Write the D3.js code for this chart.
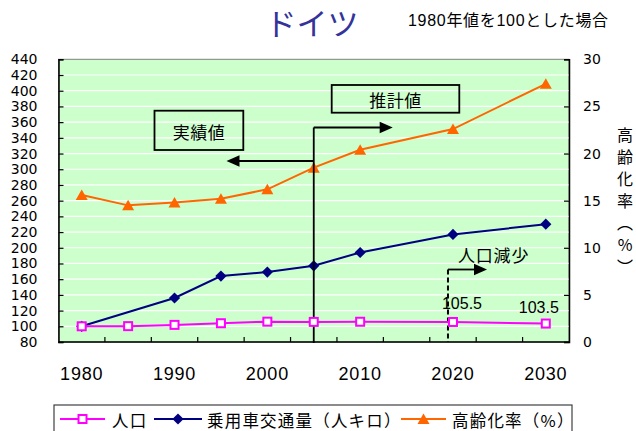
<!DOCTYPE html>
<html>
<head>
<meta charset="utf-8">
<script src="https://cdn.jsdelivr.net/npm/d3@7/dist/d3.min.js"></script>
<style>
  html, body { margin: 0; padding: 0; background: #fff; }
  svg { display: block; }
  .vtitle { writing-mode: vertical-rl; text-orientation: upright; }
</style>
</head>
<body>
<svg id="chart" width="636" height="431"></svg>
<script>
// Category axis: every five years, 1980–2030
const categoryYears = [1980, 1985, 1990, 1995, 2000, 2005, 2010, 2015, 2020, 2025, 2030];
const xTickLabels = ["1980", "1990", "2000", "2010", "2020", "2030"];
const leftTicks = [80, 100, 120, 140, 160, 180, 200, 220, 240, 260, 280, 300, 320, 340, 360, 380, 400, 420, 440];
const rightTicks = [0, 5, 10, 15, 20, 25, 30];

// Observed / projected years
const dataYears = [1980, 1985, 1990, 1995, 2000, 2005, 2010, 2020, 2030];
// 人口 (1980 = 100)
const population = [100, 100.2, 101.8, 103.9, 105.9, 105.6, 105.8, 105.5, 103.5];
// 乗用車交通量（人キロ） (1980 = 100)
const carTraffic = [100, null, 136, 164, 169, 177, 194, 217, 230];
// 高齢化率（%）
const agingRate = [15.6, 14.5, 14.8, 15.2, 16.2, 18.5, 20.4, 22.6, 27.4];

const seriesNames = ["人口", "乗用車交通量（人キロ）", "高齢化率（%）"];
const rightAxisTitle = "高齢化率（%）";

const svg = d3.select("#chart");
const jp = "'Noto Sans CJK JP', 'Noto Sans', sans-serif";

const plot = { left: 58.5, right: 569, top: 59.3, bottom: 342 };

const x = d3.scaleBand().domain(categoryYears).range([plot.left, plot.right]).padding(0);
const cx = yr => x(yr) + x.bandwidth() / 2;
const yL = d3.scaleLinear().domain([80, 440]).range([plot.bottom, plot.top]);
const yR = d3.scaleLinear().domain([0, 30]).range([plot.bottom, plot.top]);

// Plot background
svg.append("rect")
  .attr("x", plot.left).attr("y", plot.top)
  .attr("width", plot.right - plot.left).attr("height", plot.bottom - plot.top)
  .attr("fill", "#ccffcc").attr("stroke", "#808080").attr("stroke-width", 1);

// White horizontal gridlines
svg.append("g").selectAll("line")
  .data(leftTicks.slice(1, -1))
  .join("line")
  .attr("x1", plot.left).attr("x2", plot.right)
  .attr("y1", d => yL(d)).attr("y2", d => yL(d))
  .attr("stroke", "#ffffff").attr("stroke-width", 1.2);

// Left axis
const axL = svg.append("g")
  .attr("transform", `translate(${plot.left},0)`)
  .call(d3.axisLeft(yL).tickValues(leftTicks).tickSize(-5).tickPadding(21).tickFormat(d3.format("d")));
axL.select(".domain").attr("stroke", "#000").attr("stroke-width", 1.5);
axL.selectAll(".tick line").attr("stroke", "#000").attr("stroke-width", 1.2);
axL.selectAll("text").attr("font-family", "'DejaVu Sans', sans-serif").attr("font-size", 14).attr("fill", "#000");

// Right axis
const axR = svg.append("g")
  .attr("transform", `translate(${plot.right},0)`)
  .call(d3.axisRight(yR).tickValues(rightTicks).tickSize(-5).tickPadding(14).tickFormat(d3.format("d")));
axR.select(".domain").attr("stroke", "#000").attr("stroke-width", 1.5);
axR.selectAll(".tick line").attr("stroke", "#000").attr("stroke-width", 1.2);
axR.selectAll("text").attr("font-family", "'DejaVu Sans', sans-serif").attr("font-size", 14).attr("fill", "#000");

// Bottom axis: line, inner ticks at category boundaries, decade labels
svg.append("line")
  .attr("x1", plot.left).attr("x2", plot.right)
  .attr("y1", plot.bottom).attr("y2", plot.bottom)
  .attr("stroke", "#000").attr("stroke-width", 1.5);
svg.append("g").selectAll("line")
  .data(categoryYears.slice(1))
  .join("line")
  .attr("x1", d => x(d)).attr("x2", d => x(d))
  .attr("y1", plot.bottom).attr("y2", plot.bottom - 5)
  .attr("stroke", "#000").attr("stroke-width", 1.2);
svg.append("g").selectAll("text")
  .data(xTickLabels)
  .join("text")
  .attr("x", d => cx(+d)).attr("y", 380)
  .attr("text-anchor", "middle")
  .attr("font-family", "'Liberation Sans', Arial, sans-serif")
  .attr("font-size", 18).attr("letter-spacing", 0.8)
  .attr("fill", "#000")
  .text(d => d);

// Right axis title, set in vertical writing mode
svg.append("text")
  .attr("class", "vtitle")
  .attr("x", 625).attr("y", 127)
  .attr("font-family", jp).attr("font-size", 16)
  .attr("letter-spacing", 6)
  .attr("fill", "#000")
  .text(rightAxisTitle);

// Series data
const rows = dataYears.map((yr, i) => ({
  year: yr, pop: population[i], car: carTraffic[i], aging: agingRate[i]
}));

const colors = { pop: "#ff00ff", car: "#000080", aging: "#ff6600" };

function drawLine(key, yScale) {
  const pts = rows.filter(r => r[key] != null);
  svg.append("path")
    .datum(pts)
    .attr("fill", "none")
    .attr("stroke", colors[key]).attr("stroke-width", 2)
    .attr("d", d3.line().x(d => cx(d.year)).y(d => yScale(d[key])));
  return pts;
}

const diamondPath = "M0,-5.6L5.6,0L0,5.6L-5.6,0Z";
const trianglePath = "M0,-5.6L6,5L-6,5Z";

const agingPts = drawLine("aging", yR);
svg.append("g").selectAll("path")
  .data(agingPts).join("path")
  .attr("transform", d => `translate(${cx(d.year)},${yR(d.aging)})`)
  .attr("d", trianglePath).attr("fill", colors.aging);

const carPts = drawLine("car", yL);
svg.append("g").selectAll("path")
  .data(carPts).join("path")
  .attr("transform", d => `translate(${cx(d.year)},${yL(d.car)})`)
  .attr("d", diamondPath).attr("fill", colors.car);

// Annotations: actual / projected split at 2005
const splitX = cx(2005);
const ann = svg.append("g").attr("stroke", "#000").attr("fill", "none");
ann.append("line").attr("x1", splitX).attr("x2", splitX).attr("y1", 127.5).attr("y2", plot.bottom + 1)
  .attr("stroke-width", 1.8);
ann.append("line").attr("x1", splitX).attr("x2", 380).attr("y1", 127.5).attr("y2", 127.5).attr("stroke-width", 1.8);
ann.append("line").attr("x1", splitX).attr("x2", 239).attr("y1", 161).attr("y2", 161).attr("stroke-width", 1.8);

function arrowHead(tipX, tipY, dir) {
  const len = 13, half = 5.8;
  svg.append("path")
    .attr("d", `M${tipX},${tipY}L${tipX - dir * len},${tipY - half}L${tipX - dir * len},${tipY + half}Z`)
    .attr("fill", "#000");
}
arrowHead(392.7, 127.5, 1);
arrowHead(226.5, 161, -1);

// Boxes
function labelBox(x0, y0, x1, y1, label) {
  svg.append("rect")
    .attr("x", x0).attr("y", y0).attr("width", x1 - x0).attr("height", y1 - y0)
    .attr("fill", "none").attr("stroke", "#000").attr("stroke-width", 1.8);
  svg.append("text")
    .attr("x", (x0 + x1) / 2).attr("y", (y0 + y1) / 2 + 1)
    .attr("text-anchor", "middle").attr("dominant-baseline", "central")
    .attr("font-family", jp).attr("font-size", 17).attr("letter-spacing", 0.5)
    .attr("fill", "#000")
    .text(label);
}
labelBox(154.5, 110.7, 243.3, 150, "実績値");
labelBox(331.7, 85, 459.3, 112.7, "推計値");

// Population decline marker near 2020
const declineX = cx(2020) - 5;
svg.append("line")
  .attr("x1", declineX).attr("x2", declineX).attr("y1", 269.5).attr("y2", plot.bottom)
  .attr("stroke", "#000").attr("stroke-width", 2).attr("stroke-dasharray", "5,3");
svg.append("line")
  .attr("x1", declineX).attr("x2", 475).attr("y1", 269.5).attr("y2", 269.5)
  .attr("stroke", "#000").attr("stroke-width", 1.8);
arrowHead(487, 269.5, 1);
svg.append("text")
  .attr("x", 458).attr("y", 254)
  .attr("dominant-baseline", "central")
  .attr("font-family", jp).attr("font-size", 17).attr("letter-spacing", 0.8)
  .attr("fill", "#000")
  .text("人口減少");

// Population line drawn over the dashed marker
const popPts = drawLine("pop", yL);
svg.append("g").selectAll("rect")
  .data(popPts).join("rect")
  .attr("x", d => cx(d.year) - 4).attr("y", d => yL(d.pop) - 4)
  .attr("width", 8).attr("height", 8)
  .attr("fill", "#fff").attr("stroke", colors.pop).attr("stroke-width", 2);

// Value labels for the projected population
const popLabels = [
  { year: 2020, dx: 9, dy: -13 },
  { year: 2030, dx: -7, dy: -10.5 }
];
svg.append("g").selectAll("text")
  .data(popLabels).join("text")
  .attr("x", d => cx(d.year) + d.dx)
  .attr("y", d => yL(population[dataYears.indexOf(d.year)]) + d.dy)
  .attr("text-anchor", "middle")
  .attr("font-family", "'Liberation Sans', Arial, sans-serif")
  .attr("font-size", 16)
  .attr("fill", "#000")
  .text(d => d3.format(".1f")(population[dataYears.indexOf(d.year)]));

// Title and note
svg.append("text")
  .attr("x", 312).attr("y", 35)
  .attr("text-anchor", "middle")
  .attr("font-family", jp).attr("font-size", 31)
  .attr("fill", "#333399")
  .text("ドイツ");
svg.append("text")
  .attr("x", 408).attr("y", 26)
  .attr("font-family", "'Liberation Sans', 'Noto Sans CJK JP', sans-serif")
  .attr("font-size", 16).attr("letter-spacing", 0.7)
  .attr("fill", "#000")
  .text("1980年値を100とした場合");

// Legend
const legend = svg.append("g");
legend.append("rect")
  .attr("x", 54).attr("y", 405).attr("width", 518).attr("height", 40)
  .attr("fill", "#fff").attr("stroke", "#404040").attr("stroke-width", 1.2);
const legendItems = [
  { key: "pop", x0: 60, x1: 105, tx: 112 },
  { key: "car", x0: 154, x1: 202, tx: 207 },
  { key: "aging", x0: 401, x1: 446, tx: 452 }
];
const ly = 419;
legendItems.forEach((it, i) => {
  legend.append("line")
    .attr("x1", it.x0).attr("x2", it.x1).attr("y1", ly).attr("y2", ly)
    .attr("stroke", colors[it.key]).attr("stroke-width", 2);
  const mx = (it.x0 + it.x1) / 2;
  if (it.key === "pop") {
    legend.append("rect").attr("x", mx - 4).attr("y", ly - 4).attr("width", 8).attr("height", 8)
      .attr("fill", "#fff").attr("stroke", colors.pop).attr("stroke-width", 2);
  } else if (it.key === "car") {
    legend.append("path").attr("transform", `translate(${mx},${ly})`).attr("d", diamondPath).attr("fill", colors.car);
  } else {
    legend.append("path").attr("transform", `translate(${mx},${ly})`).attr("d", trianglePath).attr("fill", colors.aging);
  }
  legend.append("text")
    .attr("x", it.tx).attr("y", ly + 1)
    .attr("dominant-baseline", "central")
    .attr("font-family", jp).attr("font-size", 16.5).attr("letter-spacing", 1.2)
    .attr("fill", "#000")
    .text(seriesNames[i]);
});
</script>
</body>
</html>
